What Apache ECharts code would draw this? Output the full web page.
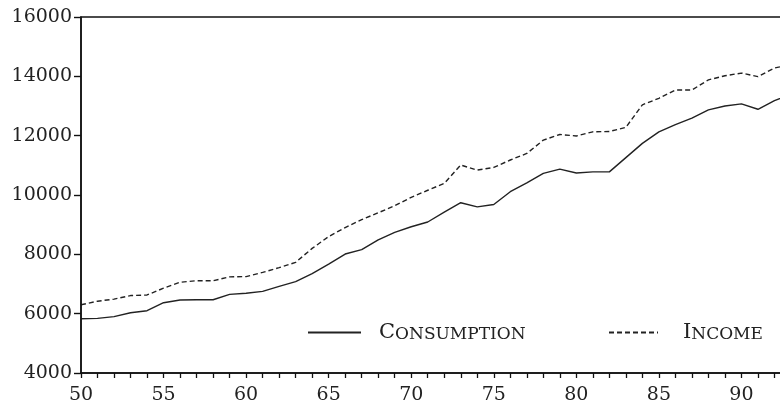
<!DOCTYPE html>
<html>
<head>
<meta charset="utf-8">
<script src="https://cdn.jsdelivr.net/npm/echarts@6/dist/echarts.min.js"></script>
<style>
  html, body { margin: 0; padding: 0; background: #fff; }
  #chart { width: 780px; height: 404px; }
</style>
</head>
<body>
<div id="chart"></div>
<script>
// years (19xx), two-digit as on the axis
const years = [50, 51, 52, 53, 54, 55, 56, 57, 58, 59, 60, 61, 62, 63, 64, 65, 66, 67, 68, 69,
  70, 71, 72, 73, 74, 75, 76, 77, 78, 79, 80, 81, 82, 83, 84, 85, 86, 87, 88, 89, 90, 91, 92, 93];

const consumption = [5830, 5840, 5900, 6030, 6100, 6370, 6460, 6470, 6470, 6650, 6690, 6750, 6920, 7080,
  7350, 7670, 8010, 8160, 8490, 8740, 8930, 9090, 9420, 9740, 9600, 9680, 10110, 10410, 10730, 10870,
  10740, 10780, 10780, 11260, 11740, 12130, 12370, 12590, 12870, 13000, 13070, 12890, 13180, 13400];

const income = [6300, 6420, 6490, 6610, 6630, 6860, 7060, 7110, 7110, 7240, 7250, 7390, 7550, 7730,
  8200, 8600, 8900, 9170, 9400, 9640, 9920, 10160, 10390, 11010, 10840, 10930, 11180, 11400, 11850, 12040,
  11990, 12130, 12140, 12280, 13040, 13260, 13540, 13540, 13880, 14020, 14110, 13990, 14280, 14400];

const yTicks = [4000, 6000, 8000, 10000, 12000, 14000, 16000];

const serif = 'DejaVu Serif';
const ink = '#222';

// small caps label: first letter big, rest small
function smallCaps(gap) {
  return {
    big: {fontFamily: serif, fontSize: 21, lineHeight: 21, color: ink, verticalAlign: 'bottom', padding: [0, 0, 0, gap]},
    small: {fontFamily: serif, fontSize: 17, lineHeight: 17, color: ink, verticalAlign: 'bottom'}
  };
}
function capsName(name) {
  return '{big|' + name[0] + '}{small|' + name.slice(1) + '}';
}

const chart = echarts.init(document.getElementById('chart'));

chart.setOption({
  animation: false,
  backgroundColor: '#fff',
  grid: {
    left: 81, top: 17, right: -44, bottom: 31,
    outerBoundsMode: 'none', containLabel: false,
    show: true, borderColor: '#111', borderWidth: 1.5, backgroundColor: 'transparent'
  },
  legend: [
    {
      data: ['CONSUMPTION'], left: 307, top: 322, padding: 0, itemWidth: 53, itemHeight: 10,
      itemStyle: {opacity: 0}, formatter: capsName, textStyle: {rich: smallCaps(13)}
    },
    {
      data: ['INCOME'], left: 608, top: 322, padding: 0, itemWidth: 49, itemHeight: 10,
      itemStyle: {opacity: 0}, formatter: capsName, textStyle: {rich: smallCaps(20)}
    }
  ],
  xAxis: {
    type: 'value', min: 50, max: 95, interval: 5, z: 10,
    axisLine: {show: true, lineStyle: {color: '#111', width: 1.5}},
    axisTick: {show: true, inside: false, length: 5, lineStyle: {color: '#111', width: 1.3}},
    minorTick: {show: true, splitNumber: 5, length: 5, lineStyle: {color: '#111', width: 1.3}},
    splitLine: {show: false},
    axisLabel: {fontFamily: serif, fontSize: 19, color: ink, margin: 13, formatter: v => String(v)}
  },
  yAxis: {
    type: 'value', min: yTicks[0], max: yTicks[yTicks.length - 1], interval: 2000, z: 10,
    axisLine: {show: true, lineStyle: {color: '#111', width: 1.5}},
    axisTick: {show: true, inside: false, length: 7, lineStyle: {color: '#111', width: 1.4}},
    splitLine: {show: false},
    axisLabel: {fontFamily: serif, fontSize: 19, color: ink, margin: 9, formatter: v => String(v)}
  },
  series: [
    {
      name: 'CONSUMPTION', type: 'line', symbol: 'none', color: '#222',
      data: years.map((y, i) => [y, consumption[i]]),
      lineStyle: {color: '#222', width: 1.4, type: 'solid'}
    },
    {
      name: 'INCOME', type: 'line', symbol: 'none', color: '#222',
      data: years.map((y, i) => [y, income[i]]),
      lineStyle: {color: '#222', width: 1.4, type: [5, 3]}
    }
  ]
});
</script>
</body>
</html>
